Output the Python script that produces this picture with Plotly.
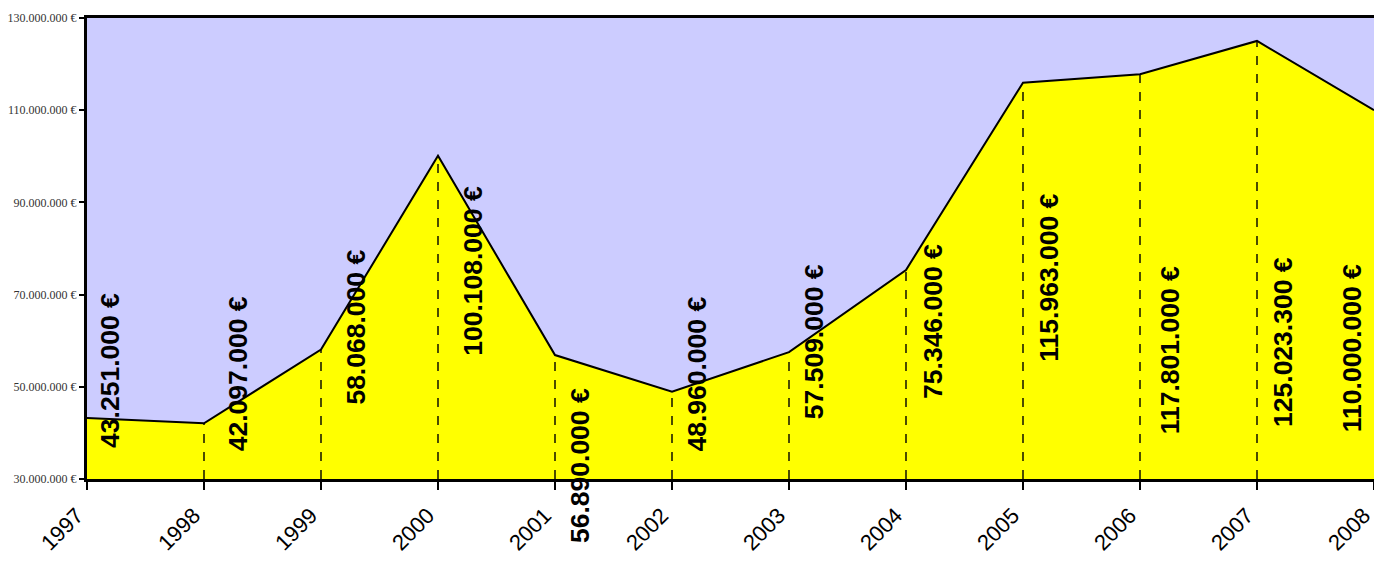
import plotly.graph_objects as go

years = [1997, 1998, 1999, 2000, 2001, 2002, 2003, 2004, 2005, 2006, 2007, 2008]
values = [43251000, 42097000, 58068000, 100108000, 56890000, 48960000,
          57509000, 75346000, 115963000, 117801000, 125023300, 110000000]
y_ticks = [30000000, 50000000, 70000000, 90000000, 110000000, 130000000]

# label offsets in pixels relative to each point (layout, not data)
label_dx = [23, 34, 35, 35, 25, 25, 25, 27, 26, 30, 26, -22]
label_dy = [-47, -49, -22, 115, 111, -17, -10, 52, 195, 276, 301, 238]


def eur(v):
    return f"{v:,.0f}".replace(",", ".") + " €"


fig = go.Figure()
fig.add_trace(go.Scatter(
    x=years, y=values, mode="lines", fill="tozeroy",
    fillcolor="#FFFF00", line=dict(color="black", width=2),
    hoverinfo="skip", showlegend=False, cliponaxis=True,
))

shapes = []
for yr, v in zip(years[1:-1], values[1:-1]):
    shapes.append(dict(type="line", xref="x", yref="y", x0=yr, x1=yr,
                       y0=y_ticks[0], y1=v,
                       line=dict(color="black", width=1.4, dash="dash"),
                       layer="above"))

annotations = []
for yr, v, dx, dy in zip(years, values, label_dx, label_dy):
    annotations.append(dict(
        x=yr, y=v, xref="x", yref="y", text=eur(v), showarrow=False,
        textangle=-90, xanchor="center", yanchor="middle",
        xshift=dx, yshift=-dy,
        font=dict(family="Liberation Sans, Arial", size=26.5, color="black", weight="bold"),
    ))

fig.update_layout(
    width=1374, height=565,
    margin=dict(l=87, r=0, t=18, b=86, autoexpand=False),
    paper_bgcolor="white", plot_bgcolor="#CCCCFF",
    shapes=shapes, annotations=annotations,
    showlegend=False,
    xaxis=dict(
        range=[years[0], years[-1]], tickvals=years, ticktext=[str(y) for y in years],
        tickangle=-45, ticks="outside", ticklen=8, tickwidth=2, tickcolor="black",
        showline=True, linecolor="black", linewidth=3, mirror=True,
        showgrid=False, zeroline=False, ticklabelstandoff=4, ticklabelshift=-10,
        automargin=False, ticklabeloverflow="allow",
        tickfont=dict(family="Liberation Sans, Arial", size=22, color="black"),
    ),
    yaxis=dict(
        range=[y_ticks[0], y_ticks[-1]], tickvals=y_ticks, ticktext=[eur(t) for t in y_ticks],
        ticks="outside", ticklen=5, tickwidth=2, tickcolor="black",
        showline=True, linecolor="black", linewidth=3,
        showgrid=False, zeroline=False, automargin=False,
        tickfont=dict(family="Liberation Serif, Times New Roman", size=12, color="#333333"),
    ),
)

fig.write_html(
    "out.html",
    config={"displayModeBar": False},
    post_script="document.body.style.margin='0';document.body.style.overflow='hidden';",
)
